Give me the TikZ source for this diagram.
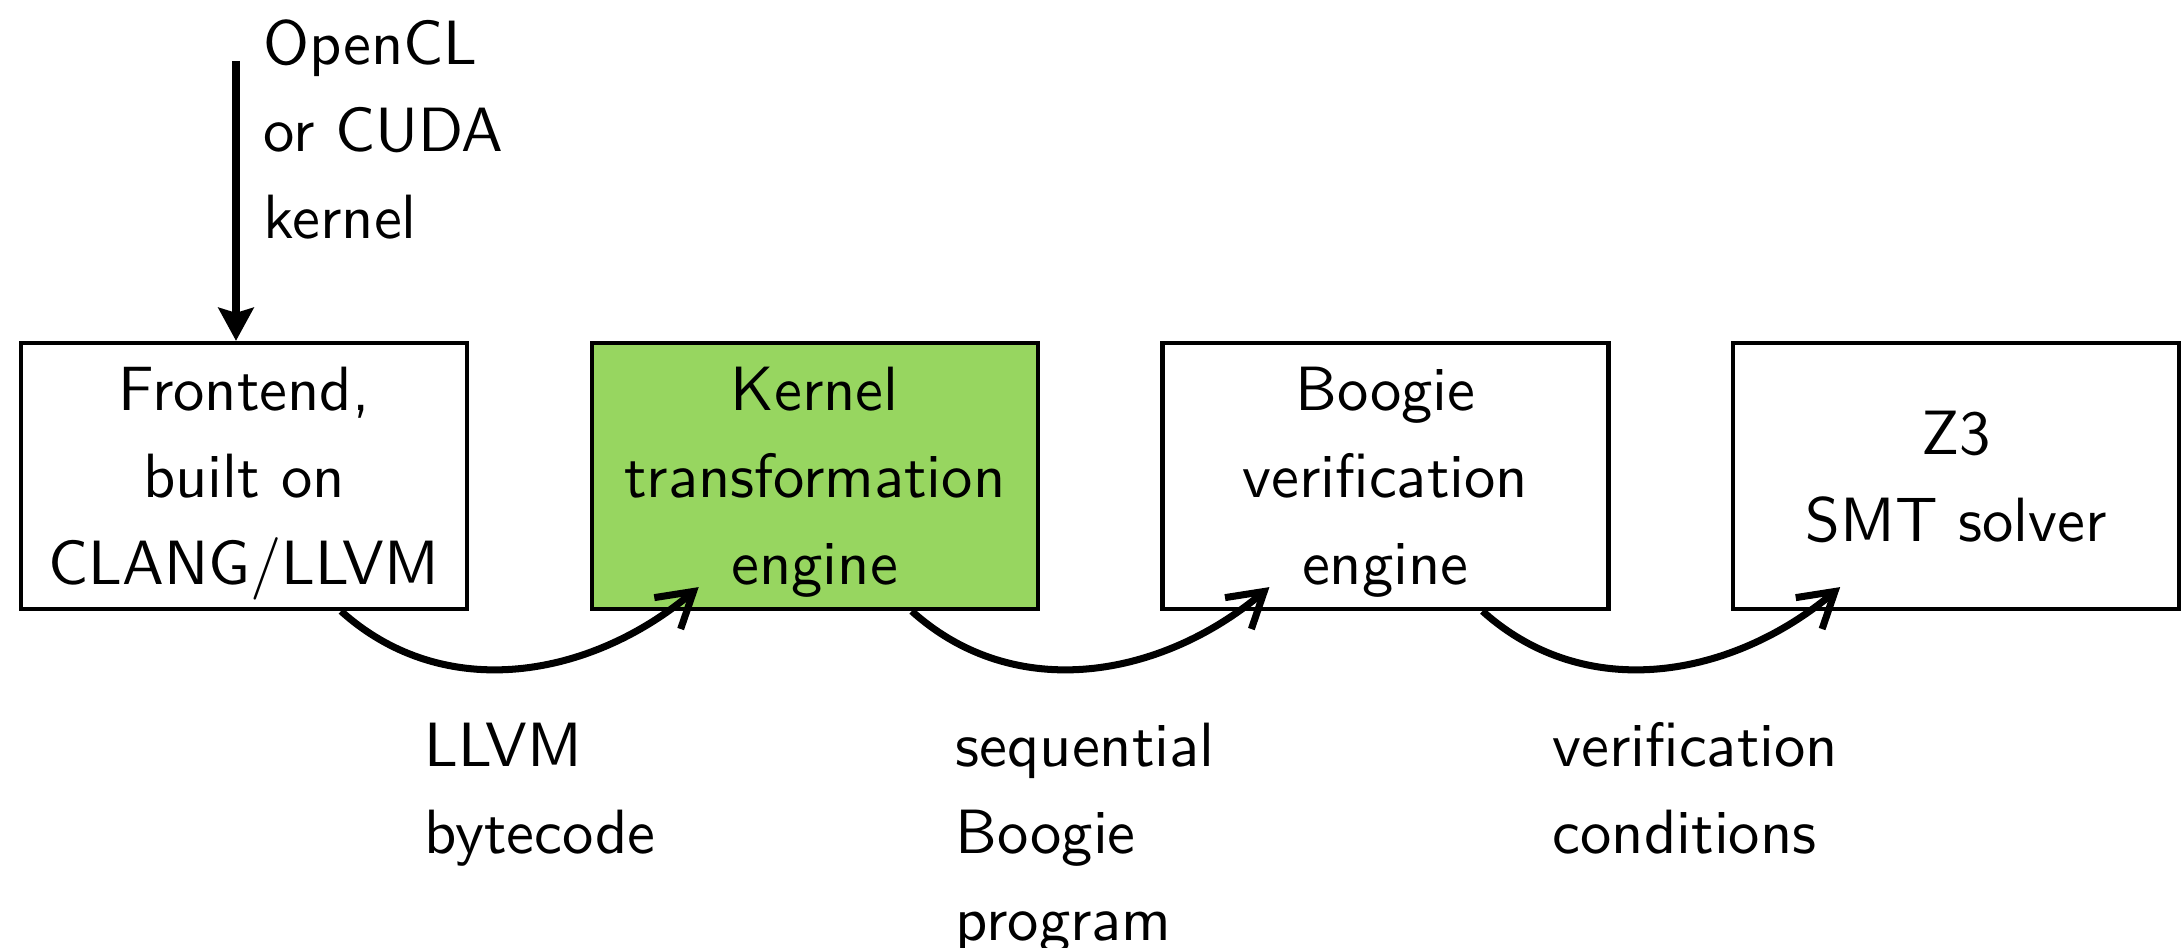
\documentclass[tikz,border=0pt]{standalone}
\usetikzlibrary{calc}
\usetikzlibrary{positioning}
\usetikzlibrary{arrows.meta}
\definecolor[named]{GVGreen}{RGB}{151,214,96}
% sans at the 10pt design size, scaled up
\DeclareFontFamily{TU}{gvss}{}
\DeclareFontShape{TU}{gvss}{m}{n}{<-> "[lmsans10-regular]:mapping=tex-text;"}{}
\newcommand{\gvfont}{\fontfamily{gvss}\fontsize{17.8}{24.8}\selectfont}
\tikzset{
  stage/.style={draw, line width=1.2pt, minimum width=4.46cm, minimum height=2.66cm,
    align=center, inner sep=0pt, text depth=0pt},
  flow/.style={line width=2pt, -{Straight Barb[length=3.4mm,width=4.1mm]}},
  feed/.style={line width=2pt, -{Stealth[length=3.3mm,width=3.5mm,inset=0.5mm]}},
  note/.style={anchor=north west, inner sep=0pt, align=left},
}

\begin{document}
\begin{tikzpicture}[every node/.style={font=\gvfont}]
        \useasboundingbox (0,0) rectangle (21.82,-9.48);
        % the four stages
        \node[stage] (front) at (2.44,-4.76) {Frontend,\\built on\\CLANG/LLVM};
        \node[stage, fill=GVGreen, right=1.205cm of front] (kernel) {Kernel\\transformation\\engine};
        \node[stage, right=1.205cm of kernel] (boogie) {Boogie\\verification\\engine};
        \node[stage, right=1.205cm of boogie] (z3) {Z3\\SMT solver};
        % input
        \coordinate (src) at (2.36,-0.61);
        \node[note] (input) at (2.63,-0.19) {OpenCL\\or CUDA\\kernel};
        \draw[feed] (src) -- (src |- front.north);
        % hand-offs
        \draw[flow] ($(front.south)+(0.97,0)$) to[out=-42,in=-140]
                    ($(kernel.south)+(-1.16,0.24)$);
        \draw[flow] ($(kernel.south)+(0.97,0)$) to[out=-42,in=-140]
                    ($(boogie.south)+(-1.16,0.24)$);
        \draw[flow] ($(boogie.south)+(0.97,0)$) to[out=-42,in=-140]
                    ($(z3.south)+(-1.16,0.24)$);
        \node[note] (llvm) at (4.24,-7.22) {LLVM\\bytecode};
        \node[note] (seq) at (9.55,-7.22) {sequential\\Boogie\\program};
        \node[note] (vcs) at (15.52,-7.22) {verification\\conditions};
\end{tikzpicture}
\end{document}
